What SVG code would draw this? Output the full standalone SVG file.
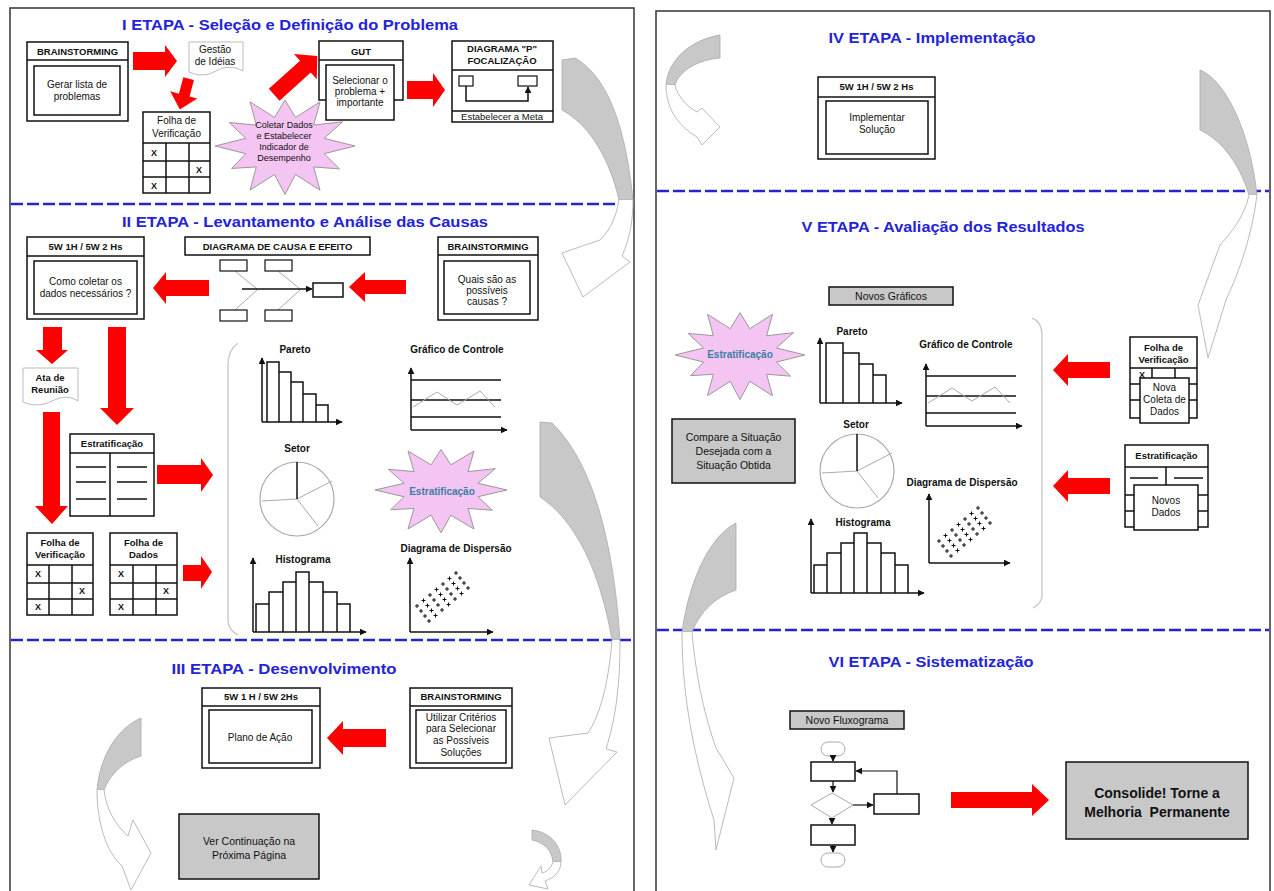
<svg xmlns="http://www.w3.org/2000/svg" width="1274" height="891" viewBox="0 0 1274 891">
<style>
  text{font-family:"Liberation Sans",Arial,sans-serif;fill:#111}
  .tt{font-size:15px;font-weight:bold;fill:#2424d6}
  .h{font-size:9.5px;font-weight:bold}
  .s{font-size:10px}
  .c{font-size:10px;font-weight:bold}
  .m{font-size:10.5px}
  .x{font-size:9px;font-weight:bold;fill:#111}
  .bx{fill:#fff;stroke:#111;stroke-width:1.5}
  .thin{fill:#fff;stroke:#111;stroke-width:1.2}
  .ln{stroke:#111;stroke-width:1.5;fill:none}
  .gl{stroke:#aaa;stroke-width:1;fill:none}
  .ra{fill:#f00}
  .dash{stroke:#2424d6;stroke-width:2.5;stroke-dasharray:12 4}
  .gray{fill:#c8c8c8;stroke:#111;stroke-width:1.5}
  .star{fill:#f4c4f2;stroke:#999;stroke-width:1}
  .crs{fill:#c8c8c8;stroke:#aaa;stroke-width:0.8}
  .out{fill:#fff;stroke:#aaa;stroke-width:0.8}
  .doc{fill:#fff;stroke:#bbb;stroke-width:1}
  .frame{fill:none;stroke:#333;stroke-width:1.5}
  .brk{fill:none;stroke:#ccc;stroke-width:1.5}
</style>
<defs>
  <marker id="ah" viewBox="0 0 10 10" refX="9" refY="5" markerUnits="userSpaceOnUse" markerWidth="7" markerHeight="7" orient="auto">
    <path d="M0,0 L10,5 L0,10 Z" fill="#111"/>
  </marker>
  <!-- control chart, origin = axis corner -->
  <g id="ctrl">
    <path class="ln" d="M0,0 V-62" marker-end="url(#ah)"/>
    <path class="ln" d="M0,0 H96" marker-end="url(#ah)"/>
    <path class="ln" d="M0,-13 H90 M0,-30 H90 M0,-50 H90"/>
    <path class="gl" d="M2,-23 L26,-38 L46,-25 L69,-39 L84,-23"/>
  </g>
  <!-- histogram, origin = axis corner -->
  <g id="hist">
    <path class="ln" d="M0,0 V-74" marker-end="url(#ah)"/>
    <path class="ln" d="M0,0 H113" marker-end="url(#ah)"/>
    <path class="ln" d="M3,0 V-28 H16 V0 M16,-28 V-40 H30 V0 M30,-40 V-50 H43 V0 M43,-50 V-60 H56 V0 M56,-60 V-50 H70 V0 M70,-50 V-40 H84 V0 M84,-40 V-28 H97 V0"/>
  </g>
  <!-- pie chart, origin = centre -->
  <g id="pie">
    <circle r="37" fill="#fff" stroke="#aaa" stroke-width="1.2"/>
    <path class="gl" d="M0,0 L35,-18 M0,0 L21,27 M0,0 L-35,2"/>
    <path class="ln" d="M0,0 V-37"/>
  </g>
  <!-- scatter cloud -->
  <path id="scatter" fill="none" stroke="#111" stroke-width="1" d="M415,606h4m-2,-2v4 M421.5,600.5h4m-2,-2v4 M428,595h4m-2,-2v4 M434.5,589.5h4m-2,-2v4 M441,584h4m-2,-2v4 M447.5,578.5h4m-2,-2v4 M454,573h4m-2,-2v4 M419,611h4m-2,-2v4 M425.5,605.5h4m-2,-2v4 M432,600h4m-2,-2v4 M438.5,594.5h4m-2,-2v4 M445,589h4m-2,-2v4 M451.5,583.5h4m-2,-2v4 M458,578h4m-2,-2v4 M423,616h4m-2,-2v4 M429.5,610.5h4m-2,-2v4 M436,605h4m-2,-2v4 M442.5,599.5h4m-2,-2v4 M449,594h4m-2,-2v4 M455.5,588.5h4m-2,-2v4 M462,583h4m-2,-2v4 M427,621h4m-2,-2v4 M433.5,615.5h4m-2,-2v4 M440,610h4m-2,-2v4 M446.5,604.5h4m-2,-2v4 M453,599h4m-2,-2v4 M459.5,593.5h4m-2,-2v4 M466,588h4m-2,-2v4"/>
</defs>

<rect width="1274" height="891" fill="#fff"/>

<!-- page frames and stage separators -->
<g id="frames">
  <rect class="frame" x="10" y="8" width="624" height="900"/>
  <rect class="frame" x="656" y="11" width="614" height="900"/>
  <line class="dash" x1="11" y1="204" x2="633" y2="204"/>
  <line class="dash" x1="11" y1="640" x2="633" y2="640"/>
  <line class="dash" x1="657" y1="191" x2="1269" y2="191"/>
  <line class="dash" x1="657" y1="630" x2="1269" y2="630"/>
</g>

<!-- stage titles -->
<g id="titles">
  <text class="tt" x="290" y="30" text-anchor="middle" textLength="336" lengthAdjust="spacingAndGlyphs">I ETAPA - Seleção e Definição do Problema</text>
  <text class="tt" x="305" y="227" text-anchor="middle" textLength="366" lengthAdjust="spacingAndGlyphs">II ETAPA - Levantamento e Análise das Causas</text>
  <text class="tt" x="284" y="674" text-anchor="middle" textLength="225" lengthAdjust="spacingAndGlyphs">III ETAPA - Desenvolvimento</text>
  <text class="tt" x="932" y="43" text-anchor="middle" textLength="207" lengthAdjust="spacingAndGlyphs">IV ETAPA - Implementação</text>
  <text class="tt" x="943" y="232" text-anchor="middle" textLength="283" lengthAdjust="spacingAndGlyphs">V ETAPA - Avaliação dos Resultados</text>
  <text class="tt" x="931" y="667" text-anchor="middle" textLength="205" lengthAdjust="spacingAndGlyphs">VI ETAPA - Sistematização</text>
</g>

<!-- connectors: block arrows and curved stage arrows -->
<g id="connectors">
  <!-- stage I -->
  <polygon class="ra" points="133,52 165,52 165,45 177,61 165,77 165,70 133,70"/>
  <polygon class="ra" points="179,78 190,78 190,95 198,95 184,110 170,95 179,95" transform="rotate(15 184 94)"/>
  <polygon class="ra" points="267,68 309,68 309,59 325,76 309,93 309,84 267,84" transform="rotate(-42 295 76)"/>
  <polygon class="ra" points="407,81 433,81 433,73 445,90 433,107 433,99 407,99"/>
  <!-- stage II -->
  <polygon class="ra" points="209,280 166,280 166,272 153,288 166,304 166,296 209,296"/>
  <polygon class="ra" points="406,280 365,280 365,272 349,287 365,302 365,294 406,294"/>
  <polygon class="ra" points="43,327 62,327 62,350 68,350 52,364 36,350 43,350"/>
  <polygon class="ra" points="108,327 126,327 126,408 134,408 117,425 100,408 108,408"/>
  <polygon class="ra" points="43,412 60,412 60,506 68,506 52,524 35,506 43,506"/>
  <polygon class="ra" points="157,465 201,465 201,458 213,475 201,492 201,484 157,484"/>
  <polygon class="ra" points="183,565 201,565 201,556 212,572 201,589 201,581 183,581"/>
  <!-- stage III -->
  <polygon class="ra" points="386,729 343,729 343,721 327,738 343,755 343,747 386,747"/>
  <!-- stage V -->
  <polygon class="ra" points="1110,362 1068,362 1068,354 1053,370 1068,386 1068,378 1110,378"/>
  <polygon class="ra" points="1110,478 1068,478 1068,470 1053,486 1068,502 1068,494 1110,494"/>
  <!-- stage VI -->
  <polygon class="ra" points="951,792 1032,792 1032,784 1049,800 1032,816 1032,808 951,808"/>

  <!-- curved arrow I -> II -->
  <path class="crs" d="M562,60 L575,58 C605,75 625,120 633,200 L619,200 C610,160 590,125 562,110 Z"/>
  <path class="out" d="M619,200 C616,218 610,230 600,240 L562,253 L583,297 L630,262 L622,256 C630,238 633,220 633,200"/>
  <!-- curved arrow II -> III -->
  <path class="crs" d="M540,422 L552,423 C585,455 612,520 620,640 L612,640 C600,570 575,520 540,497 Z"/>
  <path class="out" d="M612,640 C608,690 598,718 588,733 L549,738 L565,805 L617,752 L606,749 C615,720 620,690 620,640"/>
  <!-- curved arrow in stage III, left -->
  <path class="crs" d="M141,718 C118,728 100,755 97,790 L104,790 C110,775 122,762 141,756 Z"/>
  <path class="out" d="M104,790 C106,808 115,825 128,836 L133,820 L151,853 L131,890 L122,866 C106,852 97,822 97,790"/>
  <!-- small curved arrow in stage III, right -->
  <path class="crs" d="M532,830 C550,832 562,845 561,862 L553,862 C552,850 543,842 532,840 Z"/>
  <path class="out" d="M553,862 C551,868 547,872 542,873 L541,866 L529,885 L548,889 L545,881 C555,878 561,870 561,862"/>
  <!-- curved arrow in stage IV, left -->
  <path class="crs" d="M720,35 C690,40 668,60 666,85 L675,85 C680,70 698,60 720,58 Z"/>
  <path class="out" d="M675,85 C677,95 685,105 697,112 L702,108 L720,127 L702,145 L697,137 C678,126 666,108 666,85"/>
  <!-- curved arrow IV -> V -->
  <path class="crs" d="M1200,70 C1225,80 1250,130 1257,195 L1249,195 C1240,165 1222,140 1200,130 Z"/>
  <path class="out" d="M1249,195 C1245,215 1232,232 1220,245 L1198,305 L1208,358 L1226,300 C1240,270 1252,235 1257,195"/>
  <!-- curved arrow V -> VI -->
  <path class="crs" d="M736,523 C712,535 690,575 682,632 L692,632 C700,612 715,597 736,590 Z"/>
  <path class="out" d="M692,632 C696,680 706,720 716,748 L734,778 L716,850 L714,820 C695,760 682,700 682,632"/>
</g>

<!-- ===== Stage I ===== -->
<g id="brainstorming-1">
  <rect class="bx" x="27" y="42" width="101" height="79"/>
  <line class="ln" x1="27" y1="60" x2="128" y2="60"/>
  <rect class="bx" x="34" y="66" width="86" height="49"/>
  <text class="h" x="77.5" y="55" text-anchor="middle">BRAINSTORMING</text>
  <text class="s" x="77" y="88" text-anchor="middle">Gerar lista de</text>
  <text class="s" x="77" y="100" text-anchor="middle">problemas</text>
</g>
<g id="gestao-ideias">
  <path class="doc" d="M189,42 H243 V71 C234,66 225,66 216,71 C207,76 198,76 189,72 Z"/>
  <text class="s" x="215" y="53" text-anchor="middle">Gestão</text>
  <text class="s" x="215" y="65" text-anchor="middle">de Idéias</text>
</g>
<g id="folha-verificacao-1">
  <rect class="bx" x="143" y="112" width="67" height="81"/>
  <path class="ln" d="M143,143 H210 M143,161 H210 M143,177 H210 M166,143 V193 M189,143 V193"/>
  <text class="s" x="176.5" y="124" text-anchor="middle">Folha de</text>
  <text class="s" x="176.5" y="137" text-anchor="middle">Verificação</text>
  <text class="x" x="154" y="156" text-anchor="middle">X</text>
  <text class="x" x="199" y="173" text-anchor="middle">X</text>
  <text class="x" x="154" y="189" text-anchor="middle">X</text>
</g>
<g id="coletar-dados">
  <polygon class="star" vector-effect="non-scaling-stroke" transform="translate(285 146) scale(70 51)" points="1,0 .56,.15 .779,.45 .41,.41 .5,.866 .15,.56 0,.95 -.15,.56 -.5,.866 -.41,.41 -.762,.44 -.56,.15 -1,0 -.56,-.15 -.797,-.46 -.41,-.41 -.5,-.866 -.15,-.56 0,-.9 .15,-.56 .5,-.866 .41,-.41 .823,-.475 .56,-.15"/>
  <g style="font-size:9px">
    <text x="284" y="128" text-anchor="middle" fill="#1b1b4a">Coletar Dados</text>
    <text x="284" y="139" text-anchor="middle" fill="#1b1b4a">e Estabelecer</text>
    <text x="284" y="150" text-anchor="middle" fill="#1b1b4a">Indicador de</text>
    <text x="284" y="161" text-anchor="middle" fill="#1b1b4a">Desempenho</text>
  </g>
</g>
<g id="gut">
  <rect class="bx" x="319" y="41" width="84" height="59"/>
  <line class="ln" x1="319" y1="60" x2="403" y2="60"/>
  <rect class="bx" x="326" y="65" width="68" height="55"/>
  <text class="h" x="361" y="55" text-anchor="middle">GUT</text>
  <text class="s" x="360" y="84" text-anchor="middle">Selecionar o</text>
  <text class="s" x="360" y="95" text-anchor="middle">problema +</text>
  <text class="s" x="360" y="106" text-anchor="middle">importante</text>
</g>
<g id="diagrama-p">
  <rect class="bx" x="452" y="41" width="101" height="81"/>
  <path class="ln" d="M452,70 H553 M452,111 H553"/>
  <text class="h" x="502" y="52" text-anchor="middle">DIAGRAMA &quot;P&quot;</text>
  <text class="h" x="502" y="64" text-anchor="middle">FOCALIZAÇÃO</text>
  <rect class="thin" x="459" y="76" width="14" height="10"/>
  <rect class="thin" x="518" y="76" width="19" height="10"/>
  <path class="ln" d="M466,86 V101 H528 V87" marker-end="url(#ah)"/>
  <text x="502" y="119.5" text-anchor="middle" style="font-size:9.5px">Estabelecer a Meta</text>
</g>

<!-- ===== Stage II ===== -->
<g id="plano-5w2h-2">
  <rect class="bx" x="27" y="237" width="117" height="82"/>
  <line class="ln" x1="27" y1="256" x2="144" y2="256"/>
  <rect class="bx" x="34" y="261" width="103" height="53"/>
  <text class="h" x="85.5" y="250" text-anchor="middle">5W 1H / 5W 2 Hs</text>
  <text class="s" x="85.5" y="285" text-anchor="middle">Como coletar os</text>
  <text class="s" x="85.5" y="297" text-anchor="middle">dados necessários ?</text>
</g>
<g id="causa-efeito">
  <rect class="bx" x="185" y="237" width="185" height="18"/>
  <text class="h" x="277.5" y="250" text-anchor="middle">DIAGRAMA DE CAUSA E EFEITO</text>
  <path class="gl" d="M235,271 L257,289 M278,271 L300,289 M235,310 L257,290 M278,310 L300,290"/>
  <rect class="thin" x="220" y="260" width="27" height="11"/>
  <rect class="thin" x="265" y="260" width="27" height="11"/>
  <rect class="thin" x="220" y="310" width="27" height="11"/>
  <rect class="thin" x="265" y="310" width="27" height="11"/>
  <path class="ln" d="M242,289 H312" marker-end="url(#ah)"/>
  <rect class="bx" x="313" y="283" width="30" height="14"/>
</g>
<g id="brainstorming-2">
  <rect class="bx" x="438" y="237" width="100" height="83"/>
  <line class="ln" x1="438" y1="255" x2="538" y2="255"/>
  <rect class="bx" x="444" y="261" width="86" height="53"/>
  <text class="h" x="488" y="250" text-anchor="middle">BRAINSTORMING</text>
  <text class="s" x="487" y="283" text-anchor="middle">Quais são as</text>
  <text class="s" x="487" y="294" text-anchor="middle">possíveis</text>
  <text class="s" x="487" y="305" text-anchor="middle">causas ?</text>
</g>
<g id="ata-reuniao">
  <path class="doc" d="M23,368 H78 V401 C70,396 62,396 52,401 C42,406 32,406 23,402 Z"/>
  <text class="h" x="50" y="381" text-anchor="middle">Ata de</text>
  <text class="h" x="50" y="393" text-anchor="middle">Reunião</text>
</g>
<g id="estratificacao-2">
  <rect class="bx" x="70" y="434" width="84" height="82"/>
  <path class="ln" d="M70,453 H154 M110,453 V516"/>
  <path class="ln" d="M76,467 H106 M76,482 H106 M76,499 H106 M117,467 H147 M117,482 H147 M117,499 H147"/>
  <text class="h" x="112" y="447" text-anchor="middle">Estratificação</text>
</g>
<g id="folha-verificacao-2">
  <rect class="bx" x="27" y="533" width="66" height="82"/>
  <path class="ln" d="M27,565 H93 M27,583 H93 M27,599 H93 M49,565 V615 M72,565 V615"/>
  <text class="h" x="60" y="546" text-anchor="middle">Folha de</text>
  <text class="h" x="60" y="558" text-anchor="middle">Verificação</text>
  <text class="x" x="38" y="577" text-anchor="middle">X</text>
  <text class="x" x="82" y="594" text-anchor="middle">X</text>
  <text class="x" x="38" y="610" text-anchor="middle">X</text>
</g>
<g id="folha-dados-2">
  <rect class="bx" x="110" y="533" width="67" height="82"/>
  <path class="ln" d="M110,565 H177 M110,583 H177 M110,599 H177 M133,565 V615 M156,565 V615"/>
  <text class="h" x="143.5" y="546" text-anchor="middle">Folha de</text>
  <text class="h" x="143.5" y="558" text-anchor="middle">Dados</text>
  <text class="x" x="121" y="577" text-anchor="middle">X</text>
  <text class="x" x="166" y="594" text-anchor="middle">X</text>
  <text class="x" x="121" y="610" text-anchor="middle">X</text>
</g>
<g id="graficos-2">
  <path class="brk" d="M238,343 Q228,350 228,365 V620 Q228,630 238,635"/>
  <!-- Pareto -->
  <text class="c" x="295" y="353" text-anchor="middle">Pareto</text>
  <path class="ln" d="M262,422 V358" marker-end="url(#ah)"/>
  <path class="ln" d="M262,422 H342" marker-end="url(#ah)"/>
  <path class="ln" d="M267,422 V362 H279 V422 M279,372 H291 V422 M291,382 H303 V422 M303,394 H316 V422 M316,405 H328 V422"/>
  <!-- Grafico de Controle -->
  <text class="c" x="457" y="353" text-anchor="middle">Gráfico de Controle</text>
  <use href="#ctrl" x="411" y="430"/>
  <!-- Setor -->
  <text class="c" x="297" y="452" text-anchor="middle">Setor</text>
  <use href="#pie" x="297" y="499"/>
  <!-- Histograma -->
  <text class="c" x="303" y="563" text-anchor="middle">Histograma</text>
  <use href="#hist" x="253" y="632"/>
  <!-- Diagrama de Dispersao -->
  <text class="c" x="456" y="552" text-anchor="middle">Diagrama de Dispersão</text>
  <path class="ln" d="M410,632 V558" marker-end="url(#ah)"/>
  <path class="ln" d="M410,632 H493" marker-end="url(#ah)"/>
  <use href="#scatter"/>
</g>
<g id="estratificacao-star-2">
  <polygon class="star" vector-effect="non-scaling-stroke" transform="translate(441 490) scale(66 45)" points="1,0 .56,.15 .779,.45 .41,.41 .5,.866 .15,.56 0,.95 -.15,.56 -.5,.866 -.41,.41 -.762,.44 -.56,.15 -1,0 -.56,-.15 -.797,-.46 -.41,-.41 -.5,-.866 -.15,-.56 0,-.9 .15,-.56 .5,-.866 .41,-.41 .823,-.475 .56,-.15"/>
  <text x="442" y="495" text-anchor="middle" style="font-size:10px;font-weight:bold;fill:#3a7fa8">Estratificação</text>
</g>

<!-- ===== Stage III ===== -->
<g id="plano-acao-3">
  <rect class="bx" x="202" y="688" width="118" height="80"/>
  <line class="ln" x1="202" y1="706" x2="320" y2="706"/>
  <rect class="bx" x="209" y="710" width="103" height="53"/>
  <text class="h" x="261" y="700" text-anchor="middle">5W 1 H / 5W 2Hs</text>
  <text class="s" x="260" y="741" text-anchor="middle">Plano de Ação</text>
</g>
<g id="brainstorming-3">
  <rect class="bx" x="410" y="688" width="102" height="80"/>
  <line class="ln" x1="410" y1="706" x2="512" y2="706"/>
  <rect class="bx" x="416" y="710" width="90" height="53"/>
  <text class="h" x="461" y="700" text-anchor="middle">BRAINSTORMING</text>
  <text class="s" x="461" y="721" text-anchor="middle">Utilizar Critérios</text>
  <text class="s" x="461" y="732" text-anchor="middle">para Selecionar</text>
  <text class="s" x="461" y="744" text-anchor="middle">as Possíveis</text>
  <text class="s" x="461" y="756" text-anchor="middle">Soluções</text>
</g>
<g id="ver-continuacao">
  <rect class="gray" x="179" y="814" width="140" height="65"/>
  <text class="m" x="249" y="845" text-anchor="middle">Ver Continuação na</text>
  <text class="m" x="249" y="859" text-anchor="middle">Próxima Página</text>
</g>

<!-- ===== Stage IV ===== -->
<g id="implementar-4">
  <rect class="bx" x="818" y="77" width="117" height="82"/>
  <line class="ln" x1="818" y1="97" x2="935" y2="97"/>
  <rect class="bx" x="826" y="101" width="102" height="53"/>
  <text class="h" x="876.5" y="90" text-anchor="middle">5W 1H / 5W 2 Hs</text>
  <text class="s" x="877" y="121" text-anchor="middle">Implementar</text>
  <text class="s" x="877" y="133" text-anchor="middle">Solução</text>
</g>

<!-- ===== Stage V ===== -->
<g id="novos-graficos">
  <rect class="gray" x="829" y="287" width="124" height="18"/>
  <text class="m" x="891" y="300" text-anchor="middle">Novos Gráficos</text>
</g>
<g id="estratificacao-star-5">
  <polygon class="star" vector-effect="non-scaling-stroke" transform="translate(740 355) scale(65 47)" points="1,0 .56,.15 .779,.45 .41,.41 .5,.866 .15,.56 0,.95 -.15,.56 -.5,.866 -.41,.41 -.762,.44 -.56,.15 -1,0 -.56,-.15 -.797,-.46 -.41,-.41 -.5,-.866 -.15,-.56 0,-.9 .15,-.56 .5,-.866 .41,-.41 .823,-.475 .56,-.15"/>
  <text x="740" y="358" text-anchor="middle" style="font-size:10px;font-weight:bold;fill:#3a7fa8">Estratificação</text>
</g>
<g id="graficos-5">
  <path class="brk" d="M1032,318 Q1042,322 1042,335 V595 Q1042,603 1033,608"/>
  <!-- Pareto -->
  <text class="c" x="852" y="335" text-anchor="middle">Pareto</text>
  <path class="ln" d="M820,403 V338" marker-end="url(#ah)"/>
  <path class="ln" d="M820,403 H902" marker-end="url(#ah)"/>
  <path class="ln" d="M826,403 V343 H843 V403 M843,353 H859 V403 M859,364 H873 V403 M873,375 H886 V403"/>
  <!-- Grafico de Controle -->
  <text class="c" x="966" y="348" text-anchor="middle">Gráfico de Controle</text>
  <use href="#ctrl" x="926" y="426"/>
  <!-- Setor -->
  <text class="c" x="856" y="428" text-anchor="middle">Setor</text>
  <use href="#pie" x="857" y="471"/>
  <!-- Histograma -->
  <text class="c" x="863" y="526" text-anchor="middle">Histograma</text>
  <use href="#hist" x="811" y="593"/>
  <!-- Diagrama de Dispersao -->
  <text class="c" x="962" y="486" text-anchor="middle">Diagrama de Dispersão</text>
  <path class="ln" d="M929,563 V494" marker-end="url(#ah)"/>
  <path class="ln" d="M929,563 H1010" marker-end="url(#ah)"/>
  <use href="#scatter" x="522" y="-65"/>
</g>
<g id="compare">
  <rect class="gray" x="672" y="419" width="123" height="64"/>
  <text class="m" x="733.5" y="441" text-anchor="middle">Compare a Situação</text>
  <text class="m" x="733.5" y="455" text-anchor="middle">Desejada com a</text>
  <text class="m" x="733.5" y="469" text-anchor="middle">Situação Obtida</text>
</g>
<g id="folha-verificacao-5">
  <rect class="bx" x="1130" y="337" width="67" height="81"/>
  <path class="ln" d="M1130,368 H1197 M1130,384 H1197 M1130,400 H1197 M1152,368 V418 M1175,368 V418"/>
  <text class="h" x="1163.5" y="351" text-anchor="middle">Folha de</text>
  <text class="h" x="1163.5" y="363" text-anchor="middle">Verificação</text>
  <text class="x" x="1142" y="378" text-anchor="middle">X</text>
  <rect class="bx" x="1140" y="378" width="49" height="45"/>
  <text class="s" x="1164.5" y="391" text-anchor="middle">Nova</text>
  <text class="s" x="1164.5" y="403" text-anchor="middle">Coleta de</text>
  <text class="s" x="1164.5" y="415" text-anchor="middle">Dados</text>
</g>
<g id="estratificacao-5">
  <rect class="bx" x="1125" y="445" width="83" height="82"/>
  <path class="ln" d="M1125,467 H1208 M1166,467 V485 M1130,478 H1158 M1174,478 H1203 M1125,495 H1134 M1125,511 H1134 M1198,495 H1208 M1198,511 H1208"/>
  <text class="h" x="1166.5" y="459" text-anchor="middle">Estratificação</text>
  <rect class="bx" x="1134" y="485" width="64" height="45"/>
  <text class="s" x="1166" y="504" text-anchor="middle">Novos</text>
  <text class="s" x="1166" y="516" text-anchor="middle">Dados</text>
</g>

<!-- ===== Stage VI ===== -->
<g id="novo-fluxograma">
  <rect class="gray" x="790" y="711" width="114" height="18"/>
  <text class="m" x="847" y="724" text-anchor="middle">Novo Fluxograma</text>
  <rect x="821" y="742" width="24" height="14" rx="7" fill="#fff" stroke="#aaa" stroke-width="1"/>
  <path class="ln" d="M833,756 V761" marker-end="url(#ah)" style="stroke-width:1.2"/>
  <rect class="bx" x="811" y="762" width="44" height="19"/>
  <path class="ln" d="M833,781 V792" marker-end="url(#ah)" style="stroke-width:1.2"/>
  <polygon points="811,805 832,793 853,805 832,818" fill="#fff" stroke="#aaa" stroke-width="1"/>
  <path class="ln" d="M853,805 H873" marker-end="url(#ah)" style="stroke-width:1.2"/>
  <rect class="bx" x="874" y="794" width="45" height="20"/>
  <path class="ln" d="M897,794 V771 H856" marker-end="url(#ah)" style="stroke-width:1.2"/>
  <path class="ln" d="M832,818 V824" marker-end="url(#ah)" style="stroke-width:1.2"/>
  <rect class="bx" x="811" y="825" width="44" height="20"/>
  <path class="ln" d="M833,845 V852" marker-end="url(#ah)" style="stroke-width:1.2"/>
  <rect x="821" y="853" width="24" height="14" rx="7" fill="#fff" stroke="#aaa" stroke-width="1"/>
</g>
<g id="consolide">
  <rect class="gray" x="1066" y="762" width="182" height="77"/>
  <text x="1157" y="798" text-anchor="middle" style="font-size:14px;font-weight:bold">Consolide! Torne a</text>
  <text x="1157" y="817" text-anchor="middle" style="font-size:14px;font-weight:bold;white-space:pre">Melhoria  Permanente</text>
</g>
</svg>
